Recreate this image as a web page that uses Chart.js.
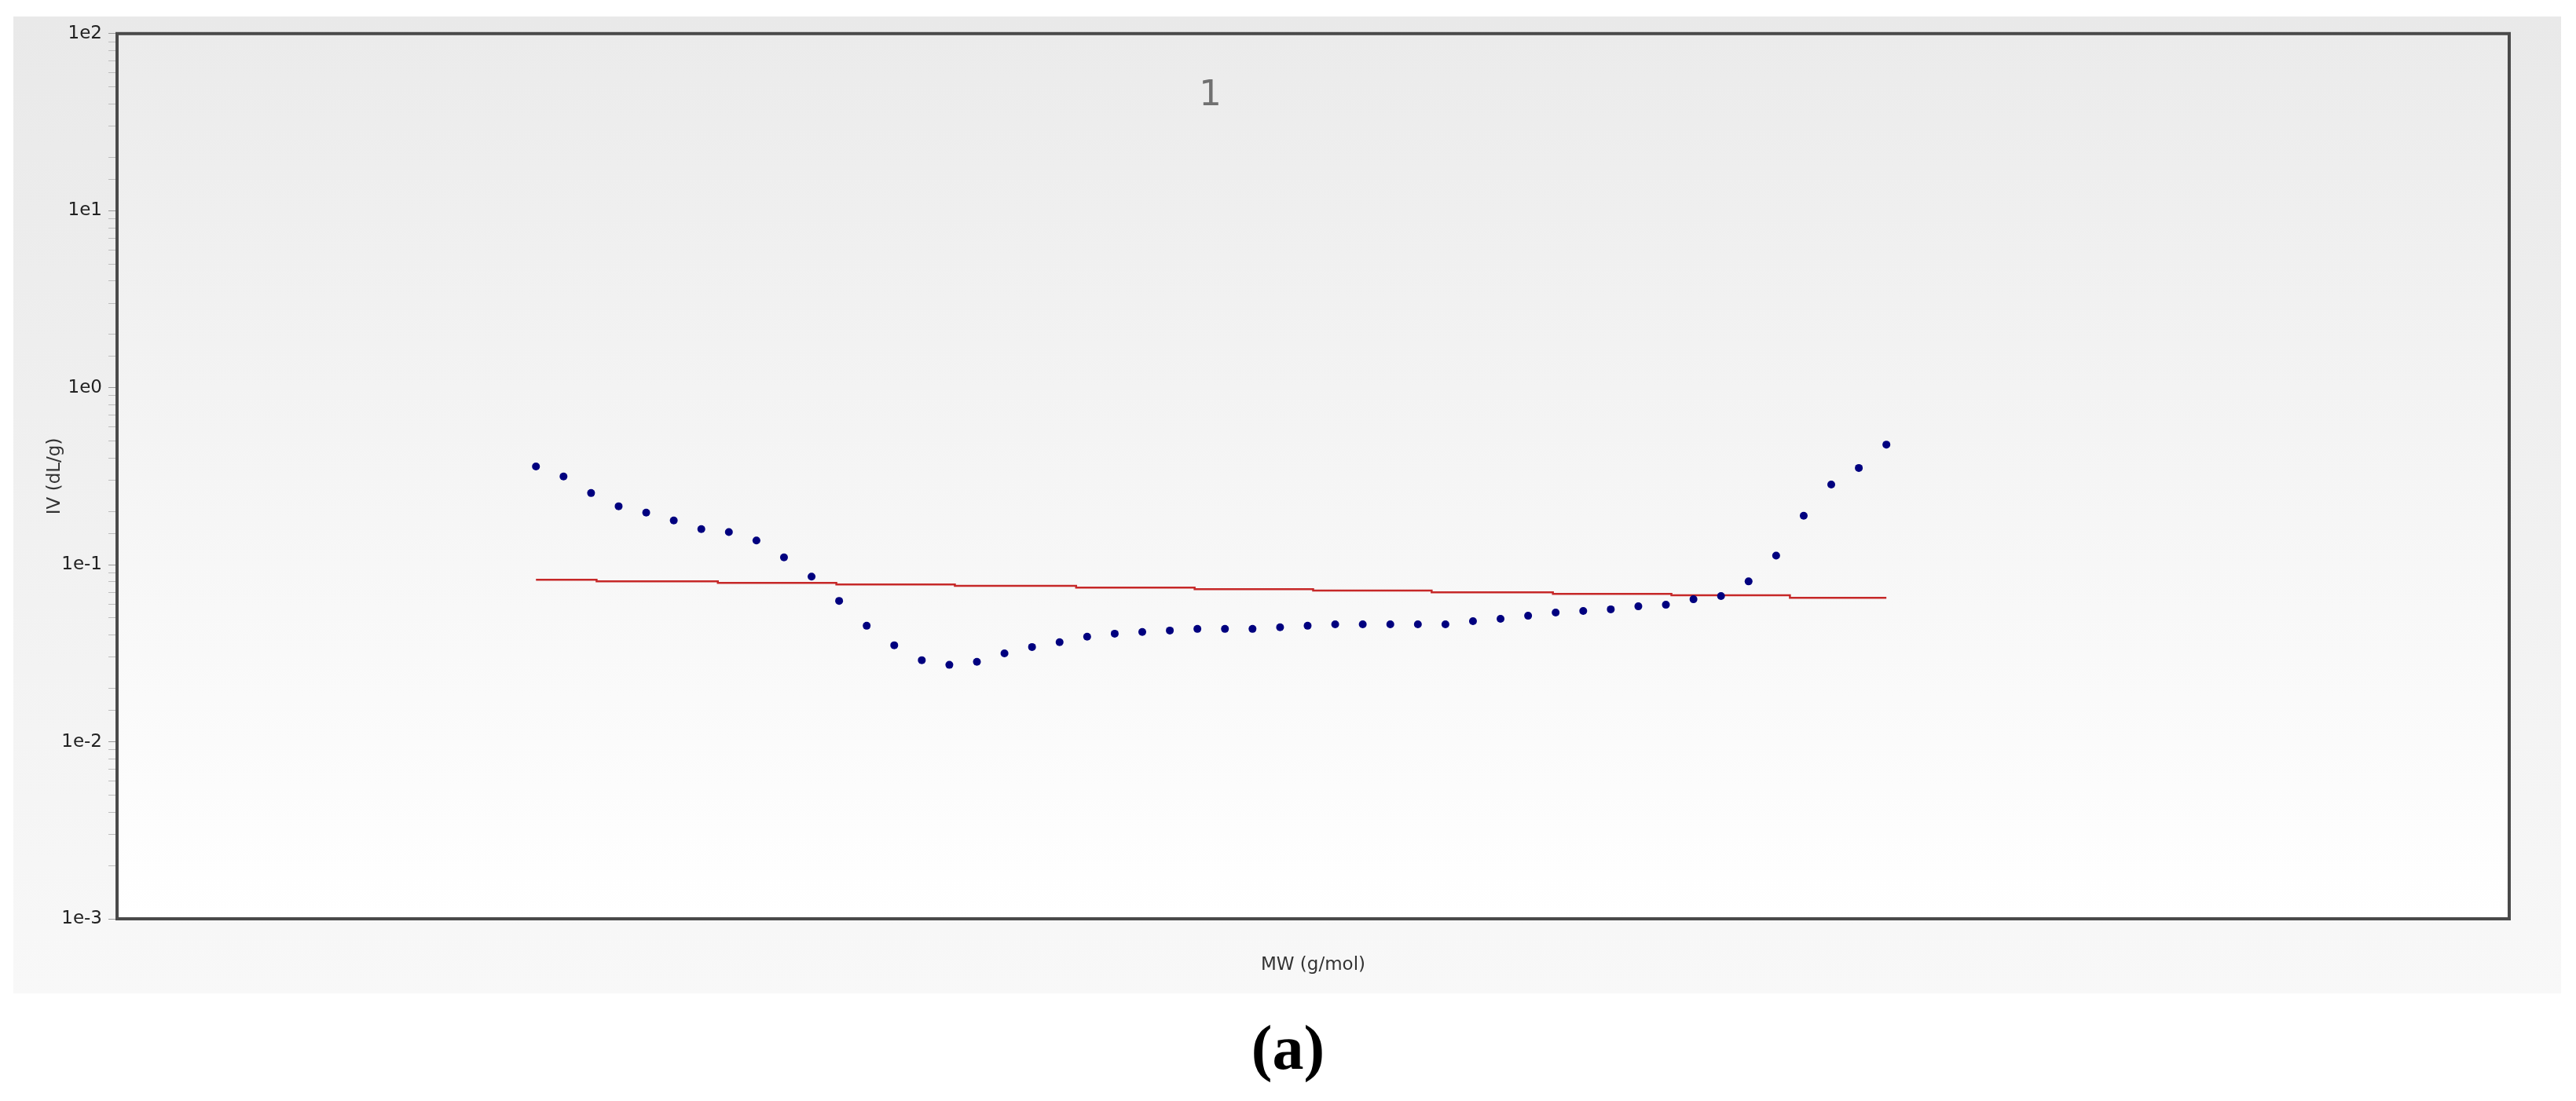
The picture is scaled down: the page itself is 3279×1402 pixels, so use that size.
<!DOCTYPE html>
<html lang="en">
<head>
    <meta charset="UTF-8">
    <title>IV vs MW</title>
    <script src="https://cdn.jsdelivr.net/npm/chart.js"></script>
    <style>
        body {
            margin: 0;
            width: 3279px;
            height: 1402px;
            background: #ffffff;
            position: relative;
            overflow: hidden;
        }
        #panel {
            position: absolute;
            left: 17px;
            top: 21px;
            width: 3243px;
            height: 1244px;
            background: linear-gradient(#e9e9e9, #f8f8f8);
        }
        #caption {
            position: absolute;
            left: 0;
            top: 1294px;
            width: 3279px;
            text-align: center;
            font: bold 80px "Liberation Serif", serif;
            line-height: 1;
            color: #000;
        }
    </style>
</head>
<body>
    <div id="panel">
        <canvas id="ivChart" width="3243" height="1244"></canvas>
    </div>
    <div id="caption">(a)</div>

    <script>
        // measured IV points (dL/g), one per slice, left to right
        var ivValues = [
            0.359, 0.315, 0.254, 0.214, 0.197, 0.178, 0.159, 0.153, 0.137, 0.110,
            0.0857, 0.0625, 0.0452, 0.0351, 0.0289, 0.0272, 0.0283, 0.0316, 0.0343, 0.0365,
            0.0392, 0.0408, 0.0417, 0.0425, 0.0434, 0.0434, 0.0434, 0.0443, 0.0452, 0.0461,
            0.0461, 0.0461, 0.0461, 0.0461, 0.0480, 0.0495, 0.0515, 0.0537, 0.0548, 0.0560,
            0.0582, 0.0594, 0.0638, 0.0665, 0.0805, 0.1127, 0.189, 0.284, 0.352, 0.477
        ];
        var sliceIndex = [
            0, 1, 2, 3, 4, 5, 6, 7, 8, 9,
            10, 11, 12, 13, 14, 15, 16, 17, 18, 19,
            20, 21, 22, 23, 24, 25, 26, 27, 28, 29,
            30, 31, 32, 33, 34, 35, 36, 37, 38, 39,
            40, 41, 42, 43, 44, 45, 46, 47, 48, 49
        ];

        // reference (red) line, drawn as steps
        var refX = [0, 2.2, 6.6, 10.9, 15.2, 19.6, 23.9, 28.2, 32.5, 36.9, 41.2, 45.5, 49];
        var refIV = [0.0822, 0.0806, 0.0790, 0.0774, 0.0759, 0.0743, 0.0728, 0.0714, 0.0699, 0.0685, 0.0672, 0.0651, 0.0651];

        var yMin = 1e-3, yMax = 1e2;
        var xMin = -15.2, xMax = 71.6;
        var plotLabel = '1';

        var dots = sliceIndex.map(function(x, i) { return { x: x, y: ivValues[i] }; });
        var refLine = refX.map(function(x, i) { return { x: x, y: refIV[i] }; });

        Chart.defaults.font.family = '"DejaVu Sans", Verdana, sans-serif';

        // plot area background, frame and the "1" label
        var framePlugin = {
            id: 'frame',
            beforeDatasetsDraw: function(chart) {
                var a = chart.chartArea, ctx = chart.ctx;
                var g = ctx.createLinearGradient(0, a.top, 0, a.bottom);
                g.addColorStop(0, '#ebebeb');
                g.addColorStop(1, '#ffffff');
                ctx.save();
                ctx.fillStyle = g;
                ctx.fillRect(a.left, a.top, a.right - a.left, a.bottom - a.top);
                ctx.fillStyle = '#707070';
                ctx.font = '45px "DejaVu Sans"';
                ctx.textAlign = 'center';
                ctx.textBaseline = 'alphabetic';
                ctx.fillText(plotLabel, a.left + (a.right - a.left) * 0.457, a.top + 91);
                ctx.restore();
            },
            afterDraw: function(chart) {
                var a = chart.chartArea, ctx = chart.ctx;
                ctx.save();
                ctx.strokeStyle = '#4a4a4a';
                ctx.lineWidth = 4;
                ctx.strokeRect(a.left, a.top, a.right - a.left, a.bottom - a.top);
                ctx.restore();
            }
        };

        var ctx = document.getElementById('ivChart').getContext('2d');
        var ivChart = new Chart(ctx, {
            data: {
                datasets: [
                    {
                        type: 'scatter',
                        label: 'IV',
                        data: dots,
                        backgroundColor: '#00007f',
                        borderWidth: 0,
                        pointRadius: 5
                    },
                    {
                        type: 'line',
                        label: 'Reference',
                        data: refLine,
                        stepped: true,
                        borderColor: '#c62828',
                        borderWidth: 2.5,
                        pointRadius: 0,
                        fill: false
                    }
                ]
            },
            options: {
                responsive: false,
                animation: false,
                layout: {
                    padding: { top: 16, right: 66, bottom: 0, left: 0 }
                },
                plugins: {
                    legend: { display: false },
                    tooltip: { enabled: false }
                },
                scales: {
                    x: {
                        type: 'linear',
                        min: xMin,
                        max: xMax,
                        grid: { display: false },
                        border: { display: false },
                        ticks: { display: false },
                        title: {
                            display: true,
                            text: 'MW (g/mol)',
                            color: '#333333',
                            font: { size: 23 },
                            padding: { top: 0, bottom: 22 }
                        },
                        afterFit: function(s) { s.height = 95; }
                    },
                    y: {
                        type: 'logarithmic',
                        min: yMin,
                        max: yMax,
                        border: { display: false },
                        grid: {
                            drawOnChartArea: false,
                            drawTicks: true,
                            tickLength: 11,
                            color: function(c) {
                                return c.tick && c.tick.label ? '#9a9a9a' : '#bdbdbd';
                            }
                        },
                        ticks: {
                            autoSkip: false,
                            padding: 8,
                            color: '#222222',
                            font: { size: 23 },
                            callback: function(v) {
                                var e = Math.round(Math.log10(v));
                                if (Math.abs(Math.log10(v) - e) < 1e-6) return '1e' + e;
                                return '';
                            }
                        },
                        title: {
                            display: true,
                            text: 'IV (dL/g)',
                            color: '#333333',
                            font: { size: 23 },
                            padding: { top: 39, bottom: 0 }
                        },
                        afterFit: function(s) { s.width = 132; }
                    }
                }
            },
            plugins: [framePlugin]
        });
    </script>
</body>
</html>
